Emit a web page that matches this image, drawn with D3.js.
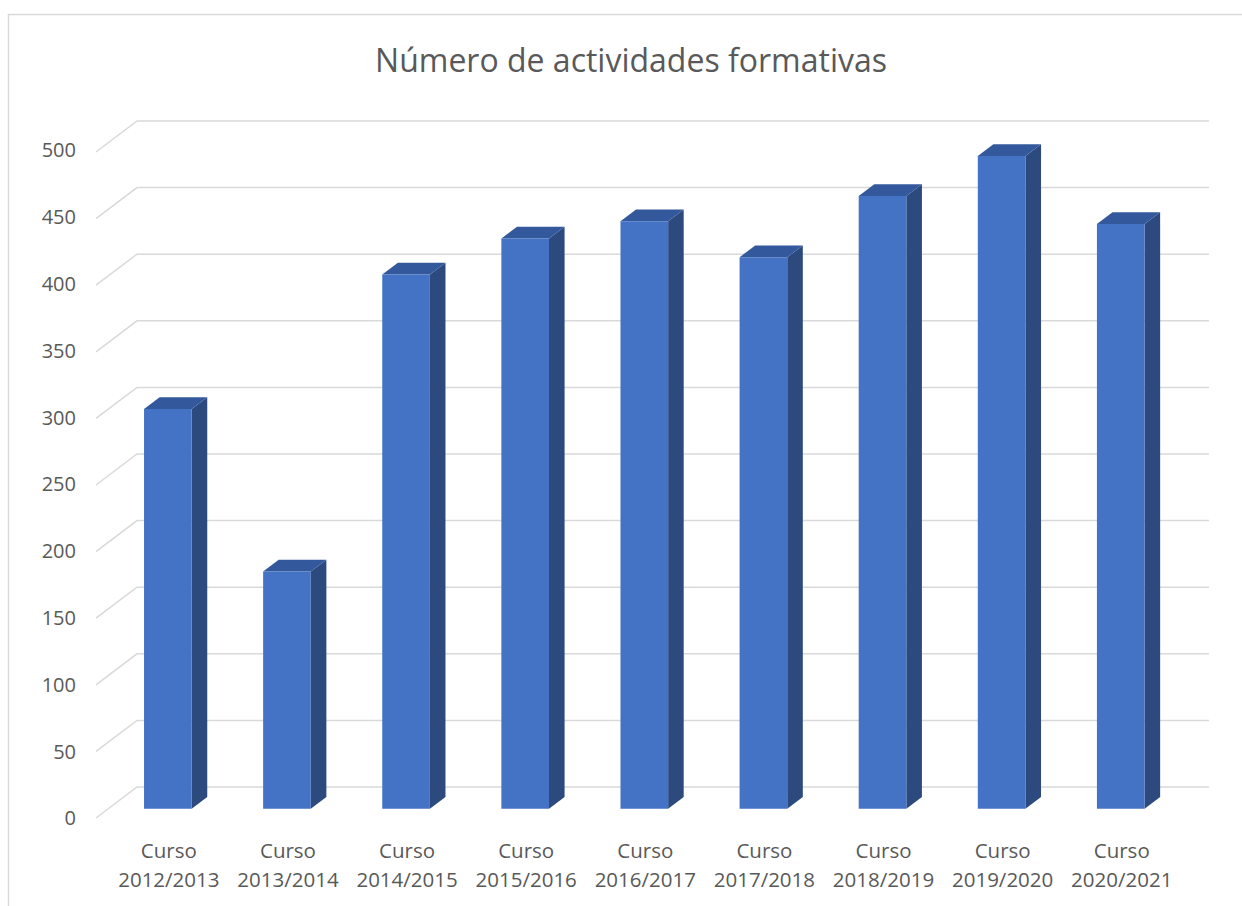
<!DOCTYPE html>
<html><head><meta charset="utf-8">
<script src="https://cdn.jsdelivr.net/npm/d3@7"></script>
<style>body{margin:0;background:#fff}svg{display:block}text{font-family:"Open Sans",sans-serif;fill:#595959}</style>
</head><body>
<script>
const title = "Número de actividades formativas";
const categories = ["2012/2013","2013/2014","2014/2015","2015/2016","2016/2017","2017/2018","2018/2019","2019/2020","2020/2021"];
const catPrefix = "Curso";
const values = [300, 178, 401, 428, 441, 414, 460, 490, 439];
const yTicks = [0, 50, 100, 150, 200, 250, 300, 350, 400, 450, 500];

const W = 1242, H = 906;
const svg = d3.select("body").append("svg").attr("width", W).attr("height", H);

// chart border
svg.append("rect").attr("x", 8.5).attr("y", 14.5).attr("width", W).attr("height", H)
  .attr("fill", "none").attr("stroke", "#d9d9d9").attr("stroke-width", 1.5);

// back-wall scales
const x = d3.scaleBand().domain(categories).range([137, 1209]).paddingInner(0.6).paddingOuter(0.3);
const y = d3.scaleLinear().domain([0, 500]).range([787, 121]);
const depth = {dx: -41, dy: 31};        // vector from back wall to front edge
const tBack = 0.32, tFront = 0.70;      // bar depth positions
const P = (px, v, t) => [px + t * depth.dx, y(v) + t * depth.dy];

// gridlines
const g = svg.append("g");
yTicks.forEach(v => {
  const a = P(x.range()[0], v, 1), b = P(x.range()[0], v, 0), c = P(x.range()[1], v, 0);
  g.append("path").attr("d", `M${a}L${b}L${c}`).attr("fill", "none")
    .attr("stroke", "#d9d9d9").attr("stroke-width", 1.5);
  g.append("text").attr("x", 76).attr("y", a[1] + 2 - v / 250).attr("text-anchor", "end")
    .attr("dominant-baseline", "middle").attr("font-size", 20).text(v);
});

// bars
const bw = x.bandwidth();
const bars = svg.append("g");
categories.forEach((c, i) => {
  const v = values[i], x0 = x(c);
  const fTL = P(x0, v, tFront), fTR = P(x0 + bw, v, tFront), fBR = P(x0 + bw, 0, tFront), fBL = P(x0, 0, tFront);
  const bTL = P(x0, v, tBack), bTR = P(x0 + bw, v, tBack), bBR = P(x0 + bw, 0, tBack);
  bars.append("path").attr("d", `M${fTR}L${bTR}L${bBR}L${fBR}Z`).attr("fill", "#2c4a7e");
  bars.append("path").attr("d", `M${fTL}L${bTL}L${bTR}L${fTR}Z`).attr("fill", "#34589c");
  bars.append("path").attr("d", `M${fTL}L${fTR}L${fBR}L${fBL}Z`).attr("fill", "#4472c4");
  const cx = x0 + bw / 2 + tFront * depth.dx + 1;
  const t = svg.append("text").attr("text-anchor", "middle").attr("font-size", 20.5);
  t.append("tspan").attr("x", cx).attr("y", 858).text(catPrefix);
  t.append("tspan").attr("x", cx).attr("y", 887).text(c);
});

svg.append("text").attr("x", 631).attr("y", 72).attr("text-anchor", "middle")
  .attr("font-size", 32).text(title);
</script>
</body></html>
